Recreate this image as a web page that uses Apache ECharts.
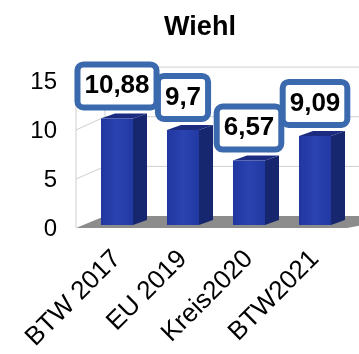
<!DOCTYPE html>
<html>
<head>
<meta charset="utf-8">
<script src="https://cdn.jsdelivr.net/npm/echarts@6/dist/echarts.min.js"></script>
<style>
  html, body { margin: 0; padding: 0; background: #fff; }
  #chart { width: 359px; height: 354px; }
</style>
</head>
<body>
<div id="chart"></div>
<script>
// Wahlbeteiligung-Werte je Wahl
const categories = ['BTW 2017', 'EU 2019', 'Kreis2020', 'BTW2021'];
const values = [10.88, 9.7, 6.57, 9.09];
const yTicks = [0, 5, 10, 15];
const titleText = 'Wiehl';

const FONT = "'Liberation Sans', Arial, Helvetica, sans-serif";

const chart = echarts.init(document.getElementById('chart'), null, { renderer: 'canvas' });

// 3D box look: depth offsets of the bars and of the back wall
const DEPTH_X = 14, DEPTH_Y = 5;
const WALL_FRONT_DX = -8, WALL_FRONT_DY = 3;
const WALL_BACK_DX = 21, WALL_BACK_DY = -9;

function backdrop(params, api) {
  const band = api.size([1, 0])[0];
  const left = api.coord([0, 0])[0] - band / 2;
  const right = api.coord([categories.length - 1, 0])[0] + band / 2;
  const y0 = api.coord([0, 0])[1];
  const ppu = y0 - api.coord([0, 1])[1];
  const yMax = yTicks[yTicks.length - 1];
  const xf = left + WALL_FRONT_DX;
  const xb = left + WALL_BACK_DX;
  const yf = v => y0 - v * ppu + WALL_FRONT_DY;
  const yb = v => y0 + WALL_BACK_DY - v * ppu * 1.013;
  const farRight = right + 60;
  const lineStyle = { stroke: '#cfcfcf', lineWidth: 1 };
  const children = [];
  // floor
  children.push({
    type: 'polygon',
    shape: { points: [[xf, yf(0)], [xb, yb(0)], [farRight, yb(0)], [right - 1, yf(0)]] },
    style: { fill: '#8c8c8c' }
  });
  // wall edges
  children.push({ type: 'line', shape: { x1: xf, y1: yf(0), x2: xf, y2: yf(yMax) }, style: lineStyle });
  children.push({ type: 'line', shape: { x1: xb, y1: yb(0), x2: xb, y2: yb(yMax) }, style: lineStyle });
  yTicks.forEach(v => {
    if (v === 0) return;
    children.push({ type: 'line', shape: { x1: xf, y1: yf(v), x2: xb, y2: yb(v) }, style: lineStyle });
    children.push({ type: 'line', shape: { x1: xb, y1: yb(v), x2: farRight, y2: yb(v) }, style: lineStyle });
  });
  return { type: 'group', silent: true, children };
}

function bar3d(params, api) {
  const cx = api.coord([api.value(0), 0])[0];
  const base = api.coord([0, 0])[1];
  const top = api.coord([0, api.value(1)])[1];
  const w = api.size([1, 0])[0] * 0.485;
  const x1 = cx - w / 2, x2 = cx + w / 2;
  const v = values[params.dataIndex];
  return {
    type: 'group',
    children: [
      {
        type: 'polygon',
        shape: { points: [[x2, top], [x2 + DEPTH_X, top - DEPTH_Y], [x2 + DEPTH_X, base - DEPTH_Y], [x2, base]] },
        style: { fill: '#17276f' }
      },
      {
        type: 'polygon',
        shape: { points: [[x1, top], [x1 + DEPTH_X, top - DEPTH_Y], [x2 + DEPTH_X, top - DEPTH_Y], [x2, top]] },
        style: { fill: '#1b2c80' }
      },
      {
        type: 'rect',
        shape: { x: x1, y: top, width: w, height: base - top },
        style: {
          fill: new echarts.graphic.LinearGradient(0, 0, 1, 0, [
            { offset: 0, color: '#2136a0' },
            { offset: 0.5, color: '#2a43b0' },
            { offset: 1, color: '#2239a2' }
          ])
        }
      },
      {
        type: 'text',
        z2: 10,
        style: {
          text: String(v).replace('.', ','),
          x: cx,
          y: top - 14,
          align: 'center',
          verticalAlign: 'bottom',
          font: 'bold 26px ' + FONT,
          fill: '#000',
          backgroundColor: '#fff',
          borderColor: '#3a69ad',
          borderWidth: 6,
          borderRadius: 3,
          padding: [5, 4, 5, 4],
          lineHeight: 27
        }
      }
    ]
  };
}

chart.setOption({
  animation: false,
  backgroundColor: '#fff',
  title: {
    text: titleText,
    left: 195,
    top: 9,
    textAlign: 'center',
    textStyle: { fontFamily: FONT, fontWeight: 'bold', fontSize: 27, color: '#000' }
  },
  grid: { left: 84, right: 11, top: 78, bottom: 129, containLabel: false },
  xAxis: {
    type: 'category',
    data: categories,
    axisLine: { show: false },
    axisTick: { show: false },
    splitLine: { show: false },
    axisLabel: {
      rotate: 45,
      margin: 30,
      fontFamily: FONT,
      fontSize: 26,
      color: '#000',
      interval: 0
    }
  },
  yAxis: {
    type: 'value',
    min: yTicks[0],
    max: yTicks[yTicks.length - 1],
    interval: yTicks[1] - yTicks[0],
    axisLine: { show: false },
    axisTick: { show: false },
    splitLine: { show: false },
    axisLabel: {
      margin: 27,
      formatter: v => '{t|' + v + '}',
      rich: { t: { fontFamily: FONT, fontSize: 24, color: '#000', padding: [8, 0, 0, 0] } }
    }
  },
  series: [
    {
      type: 'custom',
      name: 'backdrop',
      renderItem: backdrop,
      data: [[0, 0]],
      z: 1,
      silent: true
    },
    {
      type: 'custom',
      name: 'Wiehl',
      renderItem: bar3d,
      data: categories.map((c, i) => [i, values[i]]),
      z: 2
    }
  ]
});
</script>
</body>
</html>
